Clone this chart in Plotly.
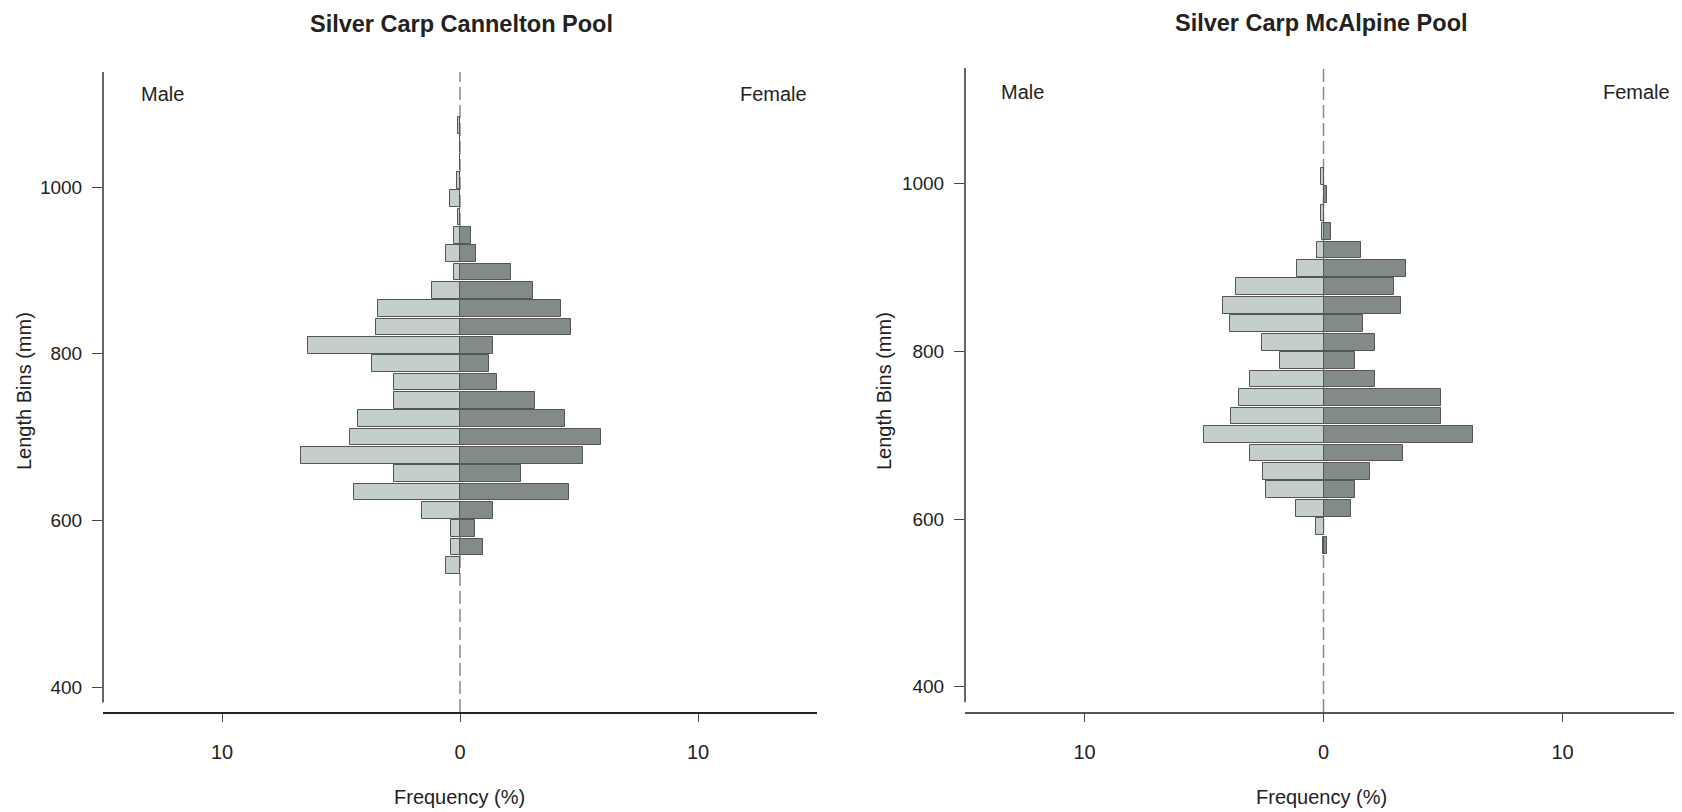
import plotly.graph_objects as go

# ---------------- data ----------------
# Panel 1: Cannelton Pool (bin centres, mm, bottom to top)
cannelton_bins = [546, 568, 590, 612, 634, 656, 678, 700, 722, 744, 766, 788, 810,
                  832, 854, 876, 898, 920, 942, 964, 986, 1008, 1030, 1052, 1074]
cannelton_male = [0.59, 0.39, 0.39, 1.61, 4.45, 2.77, 6.7, 4.62, 4.3, 2.77, 2.77, 3.68, 6.4,
                  3.54, 3.43, 1.16, 0.25, 0.59, 0.25, 0.1, 0.42, 0.12, 0.0, 0.0, 0.1]
cannelton_female = [0.0, 0.97, 0.64, 1.40, 4.58, 2.56, 5.18, 5.91, 4.4, 3.17, 1.54, 1.23, 1.4,
                    4.68, 4.23, 3.07, 2.16, 0.66, 0.48, 0.0, 0.0, 0.0, 0.0, 0.0, 0.0]

# Panel 2: McAlpine Pool
mcalpine_bins = [569, 591, 613, 635, 657, 679, 701, 723, 745, 767, 789, 811, 833,
                 855, 877, 899, 921, 943, 965, 987, 1009]
mcalpine_male = [0.04, 0.3, 1.17, 2.42, 2.52, 3.09, 5.02, 3.85, 3.53, 3.09, 1.84, 2.59, 3.92,
                 4.19, 3.68, 1.09, 0.28, 0.05, 0.1, 0.0, 0.1]
mcalpine_female = [0.13, 0.0, 1.14, 1.31, 1.96, 3.32, 6.26, 4.91, 4.91, 2.15, 1.31, 2.15, 1.64,
                   3.23, 2.95, 3.47, 1.55, 0.32, 0.0, 0.14, 0.0]

titles = ["Silver Carp Cannelton Pool", "Silver Carp McAlpine Pool"]
x_tickvals = [-10, 0, 10]
x_ticktext = ["10", "0", "10"]
y_tickvals = [400, 600, 800, 1000]

# ---------------- style ----------------
SCREEN_W, SCREEN_H = 1682, 812
OFF = 8  # default page body margin
W, H = SCREEN_W - OFF, SCREEN_H - OFF
FONT = "Liberation Sans, Arial, sans-serif"
MALE_COL = "#c3cecd"
FEMALE_COL = "#838b89"
EDGE = "#555555"
BAR_W = 20

fig = go.Figure()

panels = [
    (cannelton_bins, cannelton_male, cannelton_female, "x", "y"),
    (mcalpine_bins, mcalpine_male, mcalpine_female, "x2", "y2"),
]
for bins, male, female, xa, ya in panels:
    fig.add_trace(go.Bar(
        y=bins, x=[-v for v in male], orientation="h", width=BAR_W,
        marker=dict(color=MALE_COL, line=dict(color=EDGE, width=1)),
        xaxis=xa, yaxis=ya, name="Male", showlegend=False))
    fig.add_trace(go.Bar(
        y=bins, x=female, orientation="h", width=BAR_W,
        marker=dict(color=FEMALE_COL, line=dict(color=EDGE, width=1)),
        xaxis=xa, yaxis=ya, name="Female", showlegend=False))


def px(x):
    return min(1.0, max(0.0, (x - OFF) / W))


def py(y):
    return min(1.0, max(0.0, 1 - (y - OFF) / H))


common_x = dict(range=[-15, 15], tickvals=x_tickvals, ticktext=x_ticktext,
                showgrid=False, zeroline=False, showline=True, ticks="outside",
                ticklen=8, tickcolor="#444", tickfont=dict(size=20, color="#222", family=FONT),
                ticklabelstandoff=13, fixedrange=True)
common_y = dict(range=[370, 1138], tickvals=y_tickvals, showgrid=False, zeroline=False,
                showline=False, ticks="outside",
                ticklen=10, tickcolor="#444", tickfont=dict(size=19, color="#222", family=FONT),
                ticklabelstandoff=6, fixedrange=True)

fig.update_layout(
    width=W, height=H,
    margin=dict(l=0, r=0, t=0, b=0),
    paper_bgcolor="white", plot_bgcolor="white",
    barmode="overlay", bargap=0,
    font=dict(family=FONT, color="#222"),
    xaxis=dict(domain=[px(103), px(817)], anchor="y", linecolor="#222", linewidth=2, **common_x),
    yaxis=dict(domain=[py(712), py(72)], anchor="x", **common_y),
    xaxis2=dict(domain=[px(965), 1.0], anchor="y2", linecolor="#555", linewidth=1.5, **common_x),
    yaxis2=dict(domain=[py(712), py(68)], anchor="x2", **common_y),
)

# dashed centre lines and R-style y axis lines (with a gap above the x axis)
for xr, yr in [("x", "y"), ("x2", "y2")]:
    fig.add_shape(type="line", xref=xr, yref=yr + " domain", x0=0, x1=0, y0=0, y1=1,
                  line=dict(color="#8a8a8a", width=1.5, dash="13px,5px"), layer="below")
    fig.add_shape(type="line", xref=xr + " domain", yref=yr + " domain", x0=0, x1=0,
                  y0=0.015, y1=1, line=dict(color="#333", width=1.5), layer="above")

ann = []
# titles
ann.append(dict(text="<b>" + titles[0] + "</b>", x=px(461), y=py(24), font=dict(size=23.5)))
ann.append(dict(text="<b>" + titles[1] + "</b>", x=px(1321), y=py(23), font=dict(size=23.5)))
# Male / Female
ann.append(dict(text="Male", x=px(162), y=py(94), font=dict(size=20)))
ann.append(dict(text="Female", x=px(773), y=py(94), font=dict(size=20)))
ann.append(dict(text="Male", x=px(1022), y=py(92), font=dict(size=20)))
ann.append(dict(text="Female", x=px(1636), y=py(92), font=dict(size=20)))
# axis titles
ann.append(dict(text="Frequency (%)", x=px(460), y=py(797), font=dict(size=20)))
ann.append(dict(text="Frequency (%)", x=px(1321), y=py(797), font=dict(size=20)))
ann.append(dict(text="Length Bins (mm)", x=px(24), y=py(391), font=dict(size=20), textangle=-90))
ann.append(dict(text="Length Bins (mm)", x=px(884), y=py(391), font=dict(size=20), textangle=-90))

for a in ann:
    a.update(xref="paper", yref="paper", showarrow=False, xanchor="center", yanchor="middle",
             borderpad=0)
    a["font"].update(family=FONT, color="#222")
fig.update_layout(annotations=ann)

fig.write_html("out.html")
